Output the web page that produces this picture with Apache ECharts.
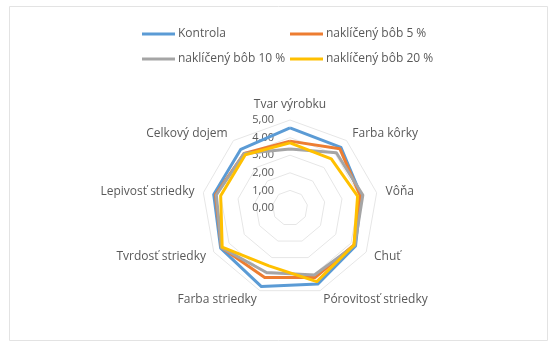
<!DOCTYPE html>
<html>
<head>
<meta charset="utf-8">
<script src="https://cdn.jsdelivr.net/npm/echarts@6/dist/echarts.min.js"></script>
<style>html,body{margin:0;padding:0;background:#fff}#c{width:556px;height:347px}</style>
</head>
<body>
<div id="c"></div>
<script>
const categories = ['Tvar výrobku','Farba kôrky','Vôňa','Chuť','Pórovitosť striedky','Farba striedky','Tvrdosť striedky','Lepivosť striedky','Celkový dojem'];
const kontrola = [4.55, 4.5, 4.1, 4.3, 4.6, 4.75, 4.55, 4.4, 4.35];
const bob5     = [3.8, 4.4, 4.05, 4.2, 4.2, 4.2, 4.5, 4.3, 4.05];
const bob10    = [3.35, 4.1, 4.2, 4.25, 4.05, 3.9, 4.5, 4.25, 4.05];
const bob20    = [3.7, 3.65, 3.9, 4.2, 4.45, 3.5, 4.45, 4.0, 3.95];
const seriesNames = ['Kontrola','naklíčený bôb 5 %','naklíčený bôb 10 %','naklíčený bôb 20 %'];
const tickLabels = ['0,00','1,00','2,00','3,00','4,00','5,00'];
const colors = ['#5B9BD5','#ED7D31','#A5A5A5','#FFC000'];

// ECharts radar runs counterclockwise; Excel runs clockwise -> reorder (keep first at top)
const order = [0].concat(categories.map((_, i) => i).slice(1).reverse());
const reord = arr => order.map(i => arr[i]);

const font = '"Open Sans", sans-serif';
const txt = '#595959';
const chart = echarts.init(document.getElementById('c'), null, {renderer: 'canvas'});
const allData = [kontrola, bob5, bob10, bob20];
const legendPos = [[137, 23], [285, 23], [137, 48], [285, 48]];

chart.setOption({
  animation: false,
  color: colors,
  textStyle: {fontFamily: font},
  graphic: [{type: 'rect', shape: {x: 9.5, y: 6.5, width: 538, height: 334}, style: {fill: 'none', stroke: '#e3e3e3', lineWidth: 1}, silent: true}],
  legend: seriesNames.map((n, i) => ({
    data: [n], left: legendPos[i][0], top: legendPos[i][1],
    icon: 'rect', itemWidth: 33, itemHeight: 3, itemGap: 0,
    textStyle: {color: txt, fontSize: 12, fontFamily: font, padding: [0, 0, 0, -2]},
    selectedMode: false
  })),
  radar: {
    center: [290, 208],
    radius: 88,
    startAngle: 90,
    shape: 'polygon',
    splitNumber: 5,
    indicator: reord(categories).map(n => ({name: n, min: 0, max: 5})),
    axisName: {color: txt, fontSize: 12, fontFamily: font},
    nameGap: 9,
    splitArea: {show: false},
    splitLine: {lineStyle: {color: '#e6e6e6', width: 1}},
    axisLine: {show: false},
    axisTick: {show: false},
    axisLabel: {show: false}
  },
  grid: {left: 290, top: 120, width: 1, height: 88},
  xAxis: {type: 'value', show: false},
  yAxis: {
    type: 'value', min: 0, max: 5, interval: 1,
    axisLine: {show: false}, axisTick: {show: false}, splitLine: {show: false},
    axisLabel: {color: txt, fontSize: 11, fontFamily: font, margin: 16,
      formatter: v => tickLabels[Math.round(v)]}
  },
  series: [{
    type: 'radar',
    symbol: 'none',
    data: allData.map((d, i) => ({
      name: seriesNames[i],
      value: reord(d),
      lineStyle: {color: colors[i], width: 3},
      itemStyle: {color: colors[i]}
    }))
  }]
});
</script>
</body>
</html>
